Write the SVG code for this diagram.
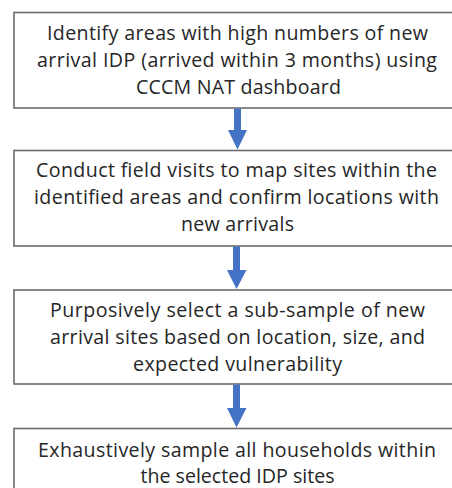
<svg xmlns="http://www.w3.org/2000/svg" width="452" height="488" viewBox="0 0 452 488">
<defs>
<style>
.box{fill:#fff;stroke:#6b6b6b;stroke-width:1.6}
.t{font-family:"Open Sans",Lato,"Liberation Sans",sans-serif;font-size:19.6px;fill:#262626;text-anchor:middle}
.arr{fill:#4472C4}
</style>
</defs>
<rect width="452" height="488" fill="#fff"/>
<g id="node1">
<rect class="box" x="14" y="12.5" width="460" height="95.5"/>
<text class="t" x="237.5" y="40" textLength="381" lengthAdjust="spacing">Identify areas with high numbers of new</text>
<text class="t" x="237" y="67" textLength="400" lengthAdjust="spacing">arrival IDP (arrived within 3 months) using</text>
<text class="t" x="238.5" y="94" textLength="205" lengthAdjust="spacing">CCCM NAT dashboard</text>
</g>
<g id="node2">
<rect class="box" x="14" y="150.5" width="460" height="95.5"/>
<text class="t" x="236.5" y="177" textLength="401" lengthAdjust="spacing">Conduct field visits to map sites within the</text>
<text class="t" x="236.5" y="204" textLength="405" lengthAdjust="spacing">identified areas and confirm locations with</text>
<text class="t" x="237.5" y="231" textLength="113" lengthAdjust="spacing">new arrivals</text>
</g>
<g id="node3">
<rect class="box" x="14" y="290" width="460" height="94"/>
<text class="t" x="237.5" y="317" textLength="375" lengthAdjust="spacing">Purposively select a sub-sample of new</text>
<text class="t" x="237.5" y="344" textLength="375" lengthAdjust="spacing">arrival sites based on location, size, and</text>
<text class="t" x="237.5" y="371" textLength="209" lengthAdjust="spacing">expected vulnerability</text>
</g>
<g id="node4">
<rect class="box" x="14" y="428.5" width="460" height="80"/>
<text class="t" x="237" y="457" textLength="398" lengthAdjust="spacing">Exhaustively sample all households within</text>
<text class="t" x="237.5" y="483">the selected IDP sites</text>
</g>
<g id="connectors">
<path class="arr" d="M234,108.5 H241 V130 H247 L237.5,149.5 L228,130 H234 Z"/>
<path class="arr" d="M233,246.5 H240 V270 H246.5 L236.5,289 L227,270 H233 Z"/>
<path class="arr" d="M233,384.5 H240 V408 H246.5 L236.5,427.5 L227,408 H233 Z"/>
</g>
</svg>
